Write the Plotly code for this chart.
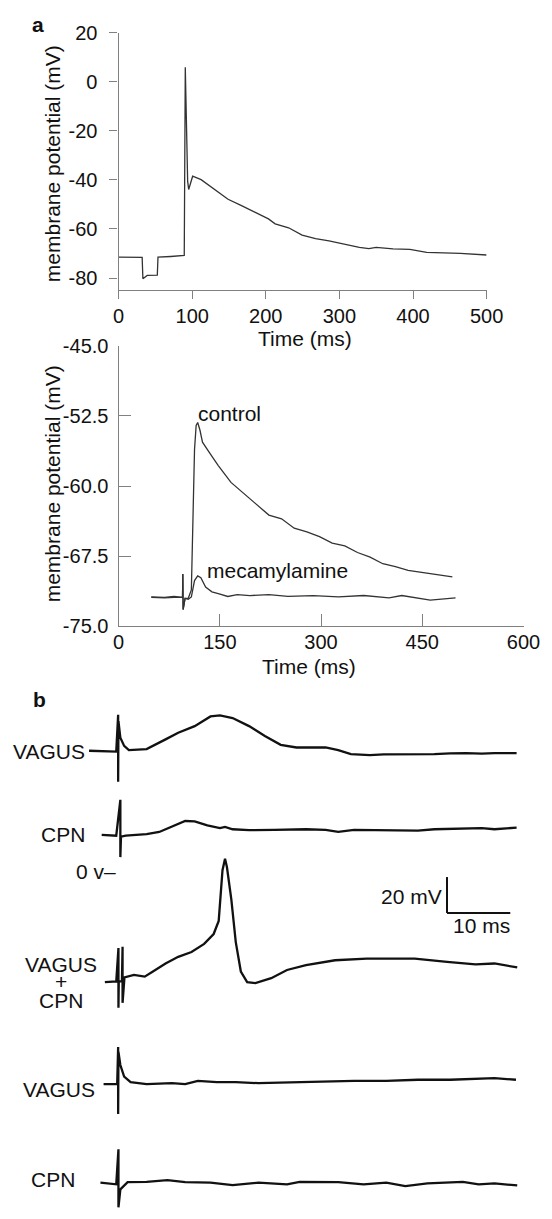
import plotly.graph_objects as go

W, H = 552, 1219
FONT = "Liberation Sans, Arial, sans-serif"
AXIS_GREY = "#808080"

# ---- panel a, top: membrane potential during stimulus
top_t = [0, 32, 33, 38.9, 52.6, 53.5, 70.9, 87.8, 89.2, 90.6, 93.8, 95.2, 100.6, 112.1,
         130.4, 148.7, 167, 185.3, 203.6, 212.7, 231, 249.3, 267.6, 285.9, 304.2,
         327.1, 340, 350, 372.8, 395.7, 418.6, 441.4, 464.3, 500]
top_v = [-71.5, -71.6, -80.3, -78.9, -78.8, -71.5, -71.2, -70.7, -70.8, 5.9, -40.5, -43.9,
         -38.5, -39.9, -43.9, -47.9, -50.5, -53.2, -55.9, -57.9, -59.5, -62.5, -63.9, -64.8,
         -66.1, -67.5, -68.0, -67.5, -68.1, -68.3, -69.5, -69.6, -69.9, -70.6]
top_xticks = [0, 100, 200, 300, 400, 500]
top_yticks = [20, 0, -20, -40, -60, -80]
top_yticktext = ["20", "0", "-20", "-40", "-60", "-80"]

# ---- panel a, bottom: control vs mecamylamine
ctrl_t = [48.4, 68, 82.1, 91.4, 94.7, 95.2, 95.6, 98.5, 103.2, 107.8, 110.2, 112.5, 114.9,
          117.2, 120.5, 124.3, 133.6, 147.7, 166.5, 185.2, 204, 222.7, 241.5, 260.2, 279,
          297.7, 316.5, 335.2, 354, 372.7, 391.5, 410.2, 429, 447.7, 466.5, 494.6]
ctrl_v = [-71.85, -71.9, -71.8, -71.9, -71.9, -69.4, -73.2, -72.0, -72.0, -71.1, -63.1,
          -56.1, -53.5, -53.2, -54.0, -55.3, -56.3, -57.8, -59.6, -60.8, -61.9, -63.1, -63.5,
          -64.5, -64.9, -65.4, -66.1, -66.4, -67.1, -67.6, -68.3, -68.6, -69.0, -69.2, -69.4,
          -69.7]
mec_t = [48.4, 68, 82.1, 91.4, 94.7, 95.2, 95.6, 98.5, 103.2, 107.8, 112.5, 117.2, 121.9,
         128.9, 138.3, 147.7, 161.8, 175.8, 194.6, 222.7, 250.9, 288.4, 325.9, 363.3, 400.8,
         419.6, 461.8, 499.3]
mec_v = [-71.9, -71.95, -71.9, -71.95, -71.9, -69.4, -73.2, -72.0, -72.1, -71.85, -70.1,
         -69.6, -69.8, -70.8, -71.3, -71.5, -71.8, -71.6, -71.7, -71.6, -71.8, -71.7, -71.85,
         -71.7, -71.95, -71.7, -72.2, -71.95]
bot_xticks = [0, 150, 300, 450, 600]
bot_yticks = [-45.0, -52.5, -60.0, -67.5, -75.0]
bot_yticktext = ["-45.0", "-52.5", "-60.0", "-67.5", "-75.0"]

# ---- panel b: intracellular records (ms from stimulus, mV)
vagus1_t = [-4.6, -0.3, 0, 0, 0.05, 0.35, 0.95, 1.7, 4.5, 7.5, 9.5, 12.1, 14.6, 16.1, 18.1,
            20.7, 23.2, 25.7, 28.2, 32.8, 34.8, 36.8, 39.8, 42, 44.9, 47.5, 50, 52.5, 55,
            57.5, 59.5, 63]
vagus1_d = [0, -0.5, 20, -17.3, 16.4, 7.3, 2.7, 0.3, 0.9, 6.3, 10, 13.7, 19.1, 19.7, 18.2,
            13.7, 8.2, 3.3, 1.8, 1.8, 0.3, -1.9, -2.4, -2.0, -1.9, -2.2, -1.9, -1.5, -1.3,
            -1.6, -1.3, -1.3]
cpn1_t = [-2.6, -0.3, 0.35, 0.35, 0.45, 1.2, 4.5, 6.5, 8.5, 10.6, 12.1, 14.1, 16.1, 16.9,
          18.1, 20.7, 24.7, 29.7, 32.8, 34.8, 37.3, 42.4, 47.4, 50, 52.5, 57.5, 59.5, 63]
cpn1_d = [0, -0.5, 19.5, -12.4, -1.0, -0.5, 0.4, 1.6, 4.5, 7.7, 7.5, 5.3, 3.7, 4.4, 3.1,
          2.6, 2.7, 3.1, 2.7, 1.6, 2.7, 2.7, 2.3, 3.1, 3.4, 3.7, 3.1, 4.0]
both_t = [-2.1, -0.3, 0.05, 0.05, 0.1, 0.6, 0.7, 0.7, 0.9, 1.0, 2.5, 4.2, 5.5, 7.5, 9.5,
          11.6, 13.6, 15.1, 15.9, 16.2, 16.5, 16.9, 17.2, 17.9, 18.6, 19.4, 20.4, 21.7,
          24.2, 26.7, 29.7, 34.3, 39.3, 44.4, 46.9, 52, 56.5, 59.5, 63.1]
both_v = [-61.8, -61.4, -42.8, -76.0, -61.4, -61.4, -42.1, -73.3, -59.9, -59.2, -57.8,
          -58.7, -55.9, -51.4, -47.7, -45.0, -40.5, -35.0, -27.7, -15.9, 0.5, 6.9, 2.3,
          -15.9, -39.5, -55.9, -61.8, -62.3, -59.6, -55.0, -52.3, -49.6, -48.7, -48.7,
          -48.7, -50.5, -51.9, -51.4, -53.6]
vagus2_t = [-2.3, -0.15, 0, 0, 0.05, 0.35, 0.95, 1.97, 4.5, 8.5, 10.6, 12.6, 15.6, 18.6,
            22.2, 27.2, 32.3, 37.3, 42.4, 47.4, 52.5, 57.5, 59.5, 62.9]
vagus2_d = [0, 0, 20.6, -16.7, 17.9, 10.6, 4.2, 1.1, 0, 0.5, 0, 1.8, 1.1, 1.1, 0.5, 0.9,
            1.5, 1.8, 1.8, 2.4, 2.4, 3.3, 3.3, 2.4]
cpn2_t = [-2.8, -0.3, 0.05, 0.05, 0.35, 1.5, 4.5, 7.8, 10.6, 14.6, 18.1, 22.2, 26.7, 28.7,
          34.8, 38.8, 42.4, 45.4, 48.9, 54.5, 57, 59.5, 63.1]
cpn2_d = [0.4, -0.5, 19, -13.3, -3.3, 0.7, 0.9, 1.8, 0.7, 0.4, -0.9, 0.4, -0.5, 0.9, 0.7,
          -0.5, 0.4, -1.5, 0, 0.9, -0.5, 0, -1.1]

# vertical stacking of the panel b records (layout only)
stack = {"vagus1": -34.6, "cpn1": -81.4, "both": -101.6, "vagus2": -220.1, "cpn2": -275.4}


def shift(vals, off):
    return [v + off for v in vals]


fig = go.Figure()

fig.add_trace(go.Scatter(x=top_t, y=top_v, mode="lines", xaxis="x", yaxis="y",
                         line=dict(color="#333333", width=1.3)))
fig.add_trace(go.Scatter(x=ctrl_t, y=ctrl_v, mode="lines", xaxis="x2", yaxis="y2",
                         line=dict(color="#333333", width=1.3)))
# mecamylamine sits on the twin axis that carries the inside tick marks
fig.add_trace(go.Scatter(x=mec_t, y=mec_v, mode="lines", xaxis="x2", yaxis="y4",
                         line=dict(color="#333333", width=1.3)))

for t, d, key in [(vagus1_t, vagus1_d, "vagus1"), (cpn1_t, cpn1_d, "cpn1"),
                  (both_t, both_v, "both"), (vagus2_t, vagus2_d, "vagus2"),
                  (cpn2_t, cpn2_d, "cpn2")]:
    fig.add_trace(go.Scatter(x=t, y=shift(d, stack[key]), mode="lines", xaxis="x3",
                             yaxis="y3", line=dict(color="#111111", width=2.3)))


def px_x(p):
    return p / W


def px_y(p):
    return 1 - p / H


tick_font = dict(family=FONT, size=20, color="#111111")
axis_common = dict(showline=True, linecolor=AXIS_GREY, linewidth=1.3, tickcolor=AXIS_GREY,
                   tickwidth=1.3, showgrid=False, zeroline=False, tickfont=tick_font)

fig.update_layout(
    width=W, height=H, margin=dict(l=0, r=0, t=0, b=0),
    paper_bgcolor="white", plot_bgcolor="white", showlegend=False,
    xaxis=dict(domain=[px_x(117.5), px_x(501.5)], range=[0, 500], anchor="y",
               tickvals=top_xticks, ticks="outside", ticklen=8, **axis_common),
    yaxis=dict(domain=[px_y(284), px_y(22)], range=[-84.8, 20], anchor="x",
               tickvals=top_yticks, ticktext=top_yticktext, ticks="outside", ticklen=8,
               ticklabelstandoff=8, **axis_common),
    xaxis2=dict(domain=[px_x(117.5), px_x(540)], range=[0, 600], anchor="y2",
                tickvals=bot_xticks, ticks="inside", ticklen=12, ticklabelstandoff=-3,
                **axis_common),
    yaxis2=dict(domain=[px_y(626.7), px_y(341)], range=[-75, -45], anchor="x2",
                tickvals=bot_yticks, ticktext=bot_yticktext, ticks="",
                ticklabelstandoff=5, **axis_common),
    yaxis4=dict(overlaying="y2", anchor="x2", side="left", range=[-75, -45],
                tickvals=bot_yticks, ticks="inside", ticklen=12, tickcolor=AXIS_GREY,
                tickwidth=1.3, showticklabels=False, showline=False, showgrid=False,
                zeroline=False),
    xaxis3=dict(domain=[0, 1], range=[-17.73, 65.91], anchor="y3", visible=False),
    yaxis3=dict(domain=[0, px_y(690)], range=[-289.07, 0], anchor="x3", visible=False),
)

txt = dict(family=FONT, size=21, color="#111111")
ann = []


def paper_text(s, x, y, angle=0):
    ann.append(dict(text=s, x=px_x(x), y=px_y(y), xref="paper", yref="paper",
                    xanchor="center", yanchor="middle", showarrow=False, textangle=angle,
                    font=txt))


# panel letters
paper_text("<b>a</b>", 33, 14)
paper_text("<b>b</b>", 35, 701)
# axis titles
paper_text("Time (ms)", 312, 334)
paper_text("Time (ms)", 316, 668)
paper_text("membrane potential (mV)", 48, 156, -90)
paper_text("membrane potential (mV)", 48, 482, -90)
# trace labels
ann.append(dict(text="control", x=114.9, y=-52.2, xref="x2", yref="y2", xanchor="left",
                yanchor="middle", showarrow=False, font=txt))
ann.append(dict(text="mecamylamine", x=128, y=-69.0, xref="x2", yref="y2", xanchor="left",
                yanchor="middle", showarrow=False, font=txt))
# panel b labels
b_labels = [("VAGUS", -4.85, -35.0, "right"), ("CPN", -4.85, -81.4, "right"),
            ("VAGUS", -9.1, -153.6, "center"), ("+", -9.1, -162.8, "center"),
            ("CPN", -9.1, -173.4, "center"), ("VAGUS", -3.33, -222.9, "right"),
            ("CPN", -6.44, -273.2, "right"), ("0 v\u2013", 0.0, stack["both"], "right"),
            ("20 mV", 51.5, -115.7, "right"), ("10 ms", 57.4, -132.1, "center")]
for s, x, y, xa in b_labels:
    ann.append(dict(text=s, x=x, y=y, xref="x3", yref="y3", xanchor=xa, yanchor="middle",
                    showarrow=False, font=txt))
fig.update_layout(annotations=ann)

# 20 mV / 10 ms scale bar
fig.add_shape(type="line", xref="x3", yref="y3", x0=52, x1=52, y0=-124.9, y1=-104.9,
              line=dict(color="#111111", width=2))
fig.add_shape(type="line", xref="x3", yref="y3", x0=52, x1=62, y0=-124.9, y1=-124.9,
              line=dict(color="#111111", width=2))

fig.write_html("out.html", config={"displayModeBar": False},
               post_script="document.body.style.margin='0px';")
